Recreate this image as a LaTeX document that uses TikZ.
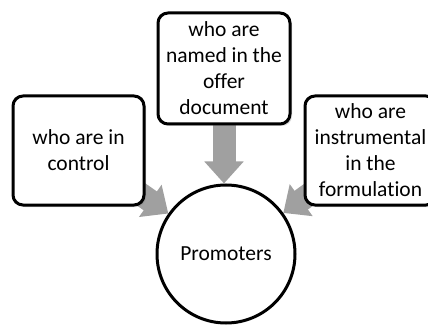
\documentclass[tikz,border=0pt]{standalone}
\usepackage{fontspec}
\setmainfont{Carlito}[Ligatures=NoCommon]
\usepackage{tikz}
\usetikzlibrary{positioning}
\usetikzlibrary{backgrounds}
\usetikzlibrary{shadows}
\usetikzlibrary{arrows.meta}
\usepackage{xcolor}
\definecolor{feedgray}{HTML}{A0A0A0}

\begin{document}
\begin{tikzpicture}[x=1pt, y=1pt]
      \tikzstyle{group}=[draw, rectangle, rounded corners=10pt, line width=3pt, fill=white, align=center, font={\fontsize{21.5}{26}\selectfont}, minimum width=131pt, minimum height=109pt, drop shadow={opacity=.3, shadow xshift=2pt, shadow yshift=-2pt}]
      \tikzstyle{hub}=[draw, circle, line width=3pt, fill=white, minimum size=138pt, font={\fontsize{21.5}{26}\selectfont}]
      \tikzstyle{feed}=[draw=feedgray, line width=23pt, -{Triangle[length=22pt, width=38pt]}]

      \clip (0,0) rectangle (428,327);

      \node[hub] (promoters) at (226, 73) {\raisebox{-5pt}{Promoters}};

      \node[group] (control) at (78.5, 176.5) {who are in\\control};
      \node[group, minimum width=132pt, minimum height=111pt] (offer) at (224, 258.5) {who are\\named in the\\offer\\document};
      \node[group] (formulation) at (370.5, 176.5) {who are\\instrumental\\in the\\formulation};

      % groups -> Promoters
      \begin{scope}[on background layer]
        \draw[feed] (offer.south) -- (offer.south |- promoters.north);
        \draw[feed] (control.center) -- (promoters);
        \draw[feed] (formulation.center) -- (promoters);
      \end{scope}
    \end{tikzpicture}
\end{document}
